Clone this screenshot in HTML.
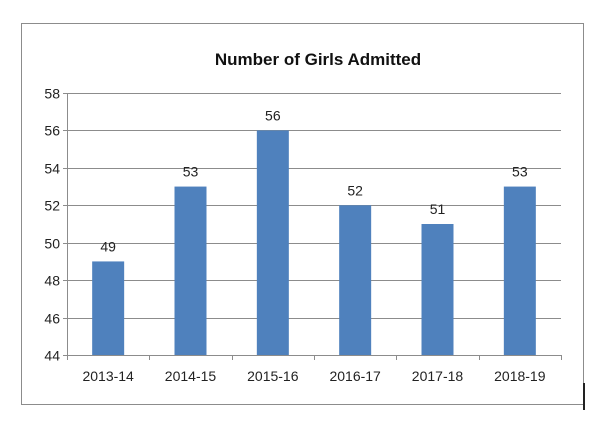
<!DOCTYPE html>
<html><head><meta charset="utf-8"><style>
body{margin:0;background:#fff;width:608px;height:420px;overflow:hidden}
svg text{font-family:"Liberation Sans",sans-serif}
</style></head><body>
<svg id="chart" width="608" height="420" xmlns="http://www.w3.org/2000/svg">
<rect x="21.5" y="23.5" width="562" height="381" fill="none" stroke="#8c8c8c" stroke-width="1"/>
<rect x="583" y="383" width="2" height="27" fill="#222"/>
<text x="318" y="65" text-anchor="middle" font-size="17" font-weight="bold" fill="#111">Number of Girls Admitted</text>
<g id="grid"></g><g id="bars"></g><g id="labels"></g>
</svg>
<script>
const categories=["2013-14","2014-15","2015-16","2016-17","2017-18","2018-19"];
const values=[49,53,56,52,51,53];
const yTicks=[44,46,48,50,52,54,56,58];
const NS="http://www.w3.org/2000/svg";
const X0=67,X1=561,Y0=355,Y1=93,YMIN=44,YMAX=58;
const y=v=>Y0-(v-YMIN)/(YMAX-YMIN)*(Y0-Y1);
const bw=(X1-X0)/categories.length;
const xc=i=>X0+bw*(i+0.5);
function mk(t,a,p){const e=document.createElementNS(NS,t);for(const k in a)e.setAttribute(k,a[k]);p.appendChild(e);return e;}
const g=document.getElementById('grid'),b=document.getElementById('bars'),l=document.getElementById('labels');
yTicks.forEach(v=>{
 const yy=Math.round(y(v))+0.5;
 const ln=mk('line',{x1:X0-4,x2:X1,y1:yy,y2:yy,stroke:'#8c8c8c','stroke-width':1},g);
 
 
 const t=mk('text',{x:X0-7,y:yy+5,'text-anchor':'end','font-size':14,fill:'#222'},g);
 t.textContent=v;
 
 
});
const ax=mk('line',{x1:X0+0.5,x2:X0+0.5,y1:Y1,y2:Y0,stroke:'#8c8c8c'},g);


for(let i=0;i<=categories.length;i++){
 const xx=Math.round(X0+bw*i)+0.5;
 const tk=mk('line',{x1:xx,x2:xx,y1:Y0,y2:Y0+5,stroke:'#8c8c8c'},g);
 
 
}
categories.forEach((c,i)=>{
 const w=32;
 const r=mk('rect',{x:xc(i)-w/2,y:y(values[i]),width:w,height:Y0-y(values[i]),fill:'#4f81bd'},b);
 
 
 const vt=mk('text',{x:xc(i),y:y(values[i])-10,'text-anchor':'middle','font-size':14,fill:'#222'},l);
 vt.textContent=values[i];
 
 
 const ct=mk('text',{x:xc(i),y:Y0+26,'text-anchor':'middle','font-size':14,fill:'#222'},l);
 ct.textContent=c;
 
 
});
</script>
</body></html>
